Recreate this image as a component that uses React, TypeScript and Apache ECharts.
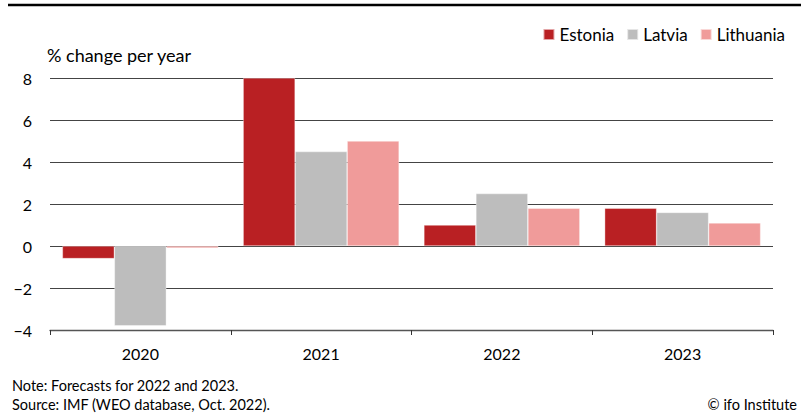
import React, { useEffect, useRef } from "react";
import * as echarts from "echarts";

const categories = ["2020", "2021", "2022", "2023"];
const estonia = [-0.6, 8.0, 1.0, 1.8];
const latvia = [-3.8, 4.5, 2.5, 1.6];
const lithuania = [-0.1, 5.0, 1.8, 1.1];
const seriesNames = ["Estonia", "Latvia", "Lithuania"];
const colors = ["#b92023", "#bdbdbd", "#f09b9a"];
const yTicks = { min: -4, max: 8, interval: 2 };
const unitLabel = "% change per year";
const noteLine = "Note: Forecasts for 2022 and 2023.";
const sourceLine = "Source: IMF (WEO database, Oct. 2022).";
const copyright = "© ifo Institute";

const FONT = "Lato, 'Noto Sans', sans-serif";

export default function App() {
  const ref = useRef<HTMLDivElement>(null);
  useEffect(() => {
    if (!ref.current) return;
    const chart = echarts.init(ref.current, undefined, { renderer: "svg" });
    const data = [estonia, latvia, lithuania];
    chart.setOption({
      animation: false,
      textStyle: { fontFamily: FONT },
      legend: {
        data: seriesNames,
        right: 19,
        top: 21,
        itemWidth: 11,
        itemHeight: 11,
        itemGap: 12,
        icon: "rect",
        textStyle: { fontSize: 17, color: "#000", fontFamily: FONT, padding: [0, 0, 0, 0] },
      },
      grid: { left: 50, right: 36, top: 78, bottom: 84 },
      xAxis: {
        type: "category",
        data: categories,
        position: "bottom",
        axisLine: { onZero: false, lineStyle: { color: "#555", width: 1.3 } },
        axisTick: { show: true, length: 5, lineStyle: { color: "#333" } },
        axisLabel: { fontSize: 16, color: "#000", margin: 15, fontFamily: FONT },
        splitLine: { show: false },
      },
      yAxis: {
        type: "value",
        min: yTicks.min,
        max: yTicks.max,
        interval: yTicks.interval,
        axisLine: { show: false },
        axisTick: { show: false },
        axisLabel: {
          fontSize: 16,
          color: "#000",
          margin: 18,
          fontFamily: FONT,
          formatter: (v: number) => String(v).replace("-", "\u2212"),
        },
        splitLine: { show: true, lineStyle: { color: "#444", width: 1 } },
      },
      series: seriesNames.map((name, i) => ({
        name,
        type: "bar",
        data: data[i],
        barWidth: 52,
        barGap: "0%",
        itemStyle: { color: colors[i], borderColor: "rgba(255,255,255,0.6)", borderWidth: 0.6 },
        z: 3,
      })),
      graphic: [
        {
          type: "line",
          shape: { x1: 8, y1: 5, x2: 801, y2: 5 },
          style: { stroke: "#000", lineWidth: 2.5 },
        },
        {
          type: "text",
          left: 47,
          top: 46,
          style: { text: unitLabel, fontSize: 18, fill: "#000", fontFamily: FONT },
        },
        {
          type: "text",
          left: 12,
          top: 378,
          style: { text: noteLine, fontSize: 14.5, fill: "#000", fontFamily: FONT },
        },
        {
          type: "text",
          left: 12,
          top: 397,
          style: { text: sourceLine, fontSize: 14.5, fill: "#000", fontFamily: FONT },
        },
        {
          type: "text",
          right: 12,
          top: 397,
          style: { text: copyright, fontSize: 14.5, fill: "#000", fontFamily: FONT },
        },
      ],
    });
    return () => chart.dispose();
  }, []);
  return (
    <div
      ref={ref}
      style={{ position: "fixed", left: 0, top: 0, width: 809, height: 414, background: "#fff" }}
    />
  );
}
